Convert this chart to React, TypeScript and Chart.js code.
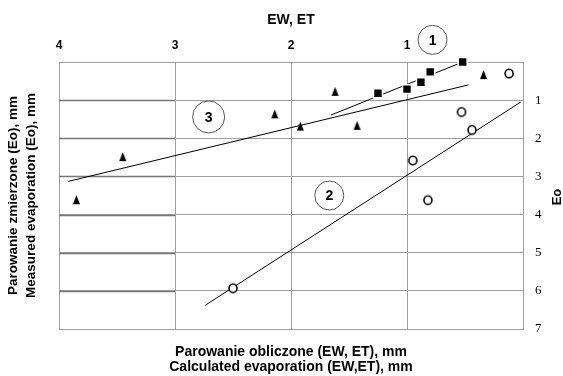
import { useEffect, useRef } from 'react';
import { Chart, registerables } from 'chart.js';

Chart.register(...registerables);

// Series 1 (filled squares)
const squareX = [1.25, 1.0, 0.88, 0.8, 0.52];
const squareY = [0.82, 0.71, 0.53, 0.26, 0.0];
// Series 3 (filled triangles)
const triangleX = [3.85, 3.45, 2.14, 1.92, 1.62, 1.43, 0.34];
const triangleY = [3.61, 2.48, 1.36, 1.68, 0.77, 1.66, 0.33];
// Series 2 (open circles)
const circleX = [2.5, 0.95, 0.82, 0.44, 0.53, 0.12];
const circleY = [5.93, 2.58, 3.62, 1.78, 1.31, 0.3];
// Fitted lines (end points)
const line1X = [1.655, 0.52];
const line1Y = [1.39, 0.0];
const line2X = [2.74, 0.02];
const line2Y = [6.38, 1.05];
const line3X = [3.92, 0.47];
const line3Y = [3.13, 0.6];
// Tick labels
const xTickLabels = [4, 3, 2, 1];
const yTickLabels = [1, 2, 3, 4, 5, 6, 7];
// Circled series labels
const tagText = ['1', '2', '3'];
const tagX = [0.78, 1.67, 2.71];
const tagY = [-0.58, 3.5, 1.44];
const tagR = [14.5, 14.5, 16];

const toPts = (xs: number[], ys: number[]) => xs.map((x, i) => ({ x, y: ys[i] }));

function makeTriangle(): HTMLCanvasElement {
  const c = document.createElement('canvas');
  c.width = 9;
  c.height = 11;
  const g = c.getContext('2d')!;
  g.fillStyle = '#000';
  g.beginPath();
  g.moveTo(4.5, 1);
  g.lineTo(8, 10);
  g.lineTo(1, 10);
  g.closePath();
  g.fill();
  return c;
}

function makeO(): HTMLCanvasElement {
  const c = document.createElement('canvas');
  c.width = 12;
  c.height = 13;
  const g = c.getContext('2d')!;
  g.fillStyle = '#fff';
  g.strokeStyle = '#000';
  g.lineWidth = 1.6;
  g.beginPath();
  g.ellipse(6, 6.5, 4, 4.3, 0, 0, Math.PI * 2);
  g.fill();
  g.stroke();
  return c;
}

const SANS = '"Liberation Sans", Arial, sans-serif';

const extrasPlugin = {
  id: 'extras',
  beforeDatasetsDraw(chart: any) {
    // darker horizontal grid segments in the left column (between x = 4 and x = 3)
    const { ctx, scales } = chart;
    const xs = scales.x;
    const ys = scales.y;
    ctx.save();
    ctx.strokeStyle = '#777';
    ctx.lineWidth = 1.3;
    const xa = xs.getPixelForValue(xTickLabels[0]);
    const xb = xs.getPixelForValue(xTickLabels[1]);
    for (let i = 0; i < yTickLabels.length - 1; i++) {
      const py = Math.round(ys.getPixelForValue(yTickLabels[i])) + 0.5;
      ctx.beginPath();
      ctx.moveTo(xa, py);
      ctx.lineTo(xb, py);
      ctx.stroke();
    }
    ctx.restore();
  },
  afterDatasetsDraw(chart: any) {
    const { ctx, scales } = chart;
    const xs = scales.x;
    const ys = scales.y;
    ctx.save();
    for (let i = 0; i < tagText.length; i++) {
      const px = xs.getPixelForValue(tagX[i]);
      const py = ys.getPixelForValue(tagY[i]);
      ctx.beginPath();
      ctx.arc(px, py, tagR[i], 0, Math.PI * 2);
      ctx.fillStyle = '#fff';
      ctx.fill();
      ctx.strokeStyle = '#555';
      ctx.lineWidth = 1;
      ctx.stroke();
      ctx.fillStyle = '#000';
      ctx.font = 'bold 14px ' + SANS;
      ctx.textAlign = 'center';
      ctx.textBaseline = 'middle';
      ctx.fillText(tagText[i], px, py + 1);
    }
    // right axis title "Eo"
    ctx.translate(557, 197);
    ctx.rotate(-Math.PI / 2);
    ctx.fillStyle = '#000';
    ctx.font = 'bold 13px ' + SANS;
    ctx.textAlign = 'center';
    ctx.textBaseline = 'middle';
    ctx.fillText('Eo', 0, 0);
    ctx.restore();
  },
};

export default function App() {
  const ref = useRef<HTMLCanvasElement>(null);

  useEffect(() => {
    document.body.style.margin = '0';
    const canvas = ref.current!;
    const tri = makeTriangle();
    const oMark = makeO();
    const gridColor = '#a0a0a0';

    const chart = new Chart(canvas, {
      type: 'scatter',
      data: {
        datasets: [
          {
            label: 'Series 1',
            data: toPts(squareX, squareY),
            pointStyle: 'rect',
            pointRadius: 6.3,
            pointBackgroundColor: '#000',
            pointBorderColor: '#fff',
            pointBorderWidth: 1.5,
            showLine: false,
            order: 1,
          },
          {
            label: 'Series 3',
            data: toPts(triangleX, triangleY),
            pointStyle: tri,
            pointRadius: 5,
            showLine: false,
            order: 1,
          },
          {
            label: 'Series 2',
            data: toPts(circleX, circleY),
            pointStyle: oMark,
            pointRadius: 6,
            showLine: false,
            order: 1,
          },
          {
            label: 'Line 1',
            data: toPts(line1X, line1Y),
            showLine: true,
            pointRadius: 0,
            borderColor: '#000',
            borderWidth: 1,
            order: 2,
          },
          {
            label: 'Line 2',
            data: toPts(line2X, line2Y),
            showLine: true,
            pointRadius: 0,
            borderColor: '#000',
            borderWidth: 1,
            order: 2,
          },
          {
            label: 'Line 3',
            data: toPts(line3X, line3Y),
            showLine: true,
            pointRadius: 0,
            borderColor: '#000',
            borderWidth: 1,
            order: 2,
          },
        ],
      },
      options: {
        responsive: false,
        animation: false,
        events: [],
        clip: false as any,
        layout: { padding: 0 },
        plugins: {
          legend: { display: false },
          tooltip: { enabled: false },
        },
        scales: {
          x: {
            type: 'linear',
            position: 'top',
            reverse: true,
            min: 0,
            max: 4,
            afterFit: (s: any) => { s.height = 62; },
            ticks: {
              stepSize: 1,
              autoSkip: false,
              padding: 9,
              color: '#000',
              font: { family: SANS, size: 12, weight: 'bold' },
              callback: (v: any) => (xTickLabels.includes(Number(v)) ? String(v) : ''),
            },
            grid: { color: gridColor, drawTicks: false },
            border: { color: gridColor },
            title: {
              display: true,
              text: 'EW, ET',
              color: '#000',
              font: { family: SANS, size: 14, weight: 'bold', lineHeight: 1.2 },
              padding: { top: 12, bottom: 0 },
            },
          },
          y: {
            type: 'linear',
            position: 'right',
            reverse: true,
            min: 0,
            max: 7,
            afterFit: (s: any) => { s.width = 40; },
            ticks: {
              stepSize: 1,
              autoSkip: false,
              padding: 12,
              color: '#000',
              font: { family: '"Liberation Serif", "Times New Roman", serif', size: 13 },
              callback: (v: any) => (yTickLabels.includes(Number(v)) ? String(v) : ''),
            },
            grid: { color: gridColor, drawTicks: false },
            border: { color: gridColor },
          },
          yl: {
            type: 'linear',
            position: 'left',
            afterFit: (s: any) => { s.width = 59; },
            ticks: { display: false },
            grid: { display: false, drawTicks: false },
            border: { display: false },
            title: {
              display: true,
              text: ['Parowanie zmierzone (Eo), mm', 'Measured evaporation (Eo), mm'],
              color: '#000',
              font: { family: SANS, size: 13.5, weight: 'bold', lineHeight: 1.33 },
              padding: { top: 4, bottom: 0 },
            },
          },
          xb: {
            type: 'linear',
            position: 'bottom',
            afterFit: (s: any) => { s.height = 47; },
            ticks: { display: false },
            grid: { display: false, drawTicks: false },
            border: { display: false },
            title: {
              display: true,
              text: ['Parowanie obliczone (EW, ET), mm', 'Calculated evaporation (EW,ET), mm'],
              color: '#000',
              font: { family: SANS, size: 14, weight: 'bold', lineHeight: 1.08 },
              padding: { top: 0, bottom: 1.5 },
            },
          },
        },
      },
      plugins: [extrasPlugin],
    });
    return () => chart.destroy();
  }, []);

  return (
    <div style={{ width: 563, height: 376 }}>
      <canvas ref={ref} width={563} height={376} />
    </div>
  );
}
